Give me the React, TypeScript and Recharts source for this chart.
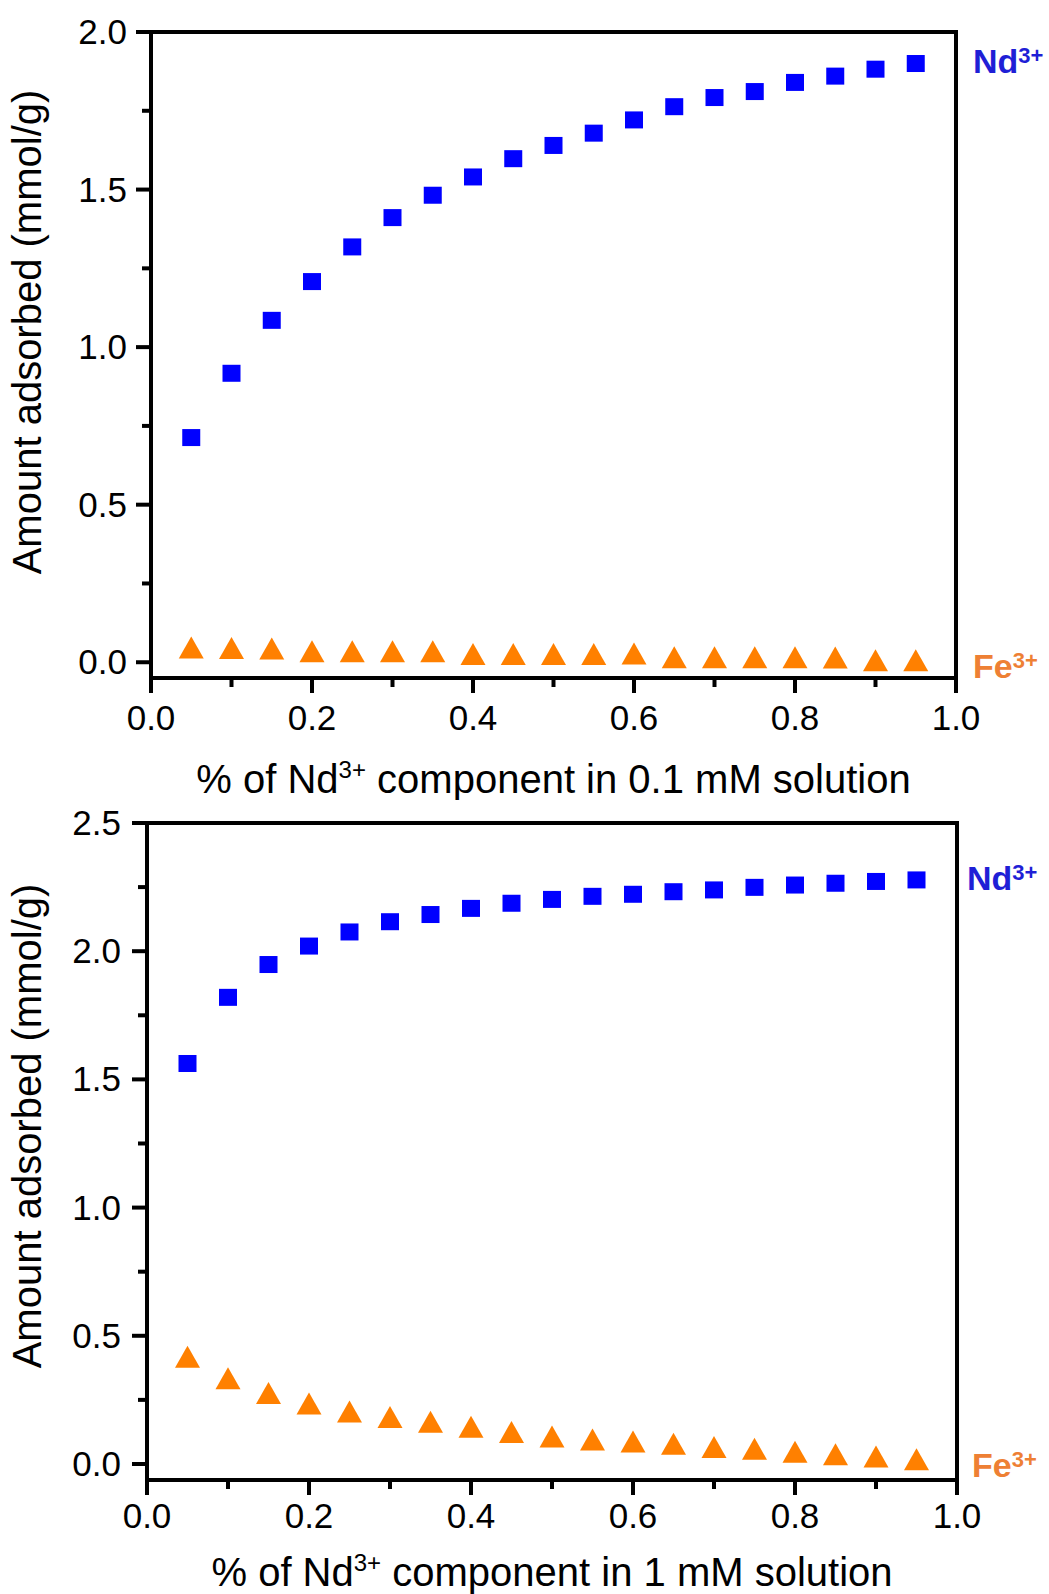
import React from 'react';
import { ScatterChart, Scatter, XAxis, YAxis } from 'recharts';

// ---- data ----
const xValues = [0.05, 0.1, 0.15, 0.2, 0.25, 0.3, 0.35, 0.4, 0.45, 0.5, 0.55, 0.6, 0.65, 0.7, 0.75, 0.8, 0.85, 0.9, 0.95];
const ndLow = [0.713, 0.917, 1.085, 1.208, 1.318, 1.411, 1.482, 1.54, 1.598, 1.64, 1.679, 1.721, 1.763, 1.792, 1.811, 1.84, 1.86, 1.882, 1.9];
const feLow = [0.047, 0.045, 0.044, 0.035, 0.035, 0.035, 0.035, 0.026, 0.026, 0.026, 0.026, 0.028, 0.016, 0.016, 0.016, 0.016, 0.015, 0.006, 0.006];
const ndHigh = [1.562, 1.82, 1.948, 2.02, 2.075, 2.115, 2.143, 2.167, 2.187, 2.202, 2.214, 2.222, 2.232, 2.239, 2.249, 2.258, 2.265, 2.272, 2.278];
const feHigh = [0.418, 0.334, 0.277, 0.236, 0.205, 0.183, 0.165, 0.145, 0.125, 0.107, 0.095, 0.088, 0.079, 0.066, 0.059, 0.048, 0.038, 0.029, 0.018];
const xTicks = [0, 0.1, 0.2, 0.3, 0.4, 0.5, 0.6, 0.7, 0.8, 0.9, 1.0];
const yTicksLow = [0, 0.25, 0.5, 0.75, 1.0, 1.25, 1.5, 1.75, 2.0];
const yTicksHigh = [0, 0.25, 0.5, 0.75, 1.0, 1.25, 1.5, 1.75, 2.0, 2.25, 2.5];
const yTitle = 'Amount adsorbed (mmol/g)';
const xTitleLow = '0.1 mM';
const xTitleHigh = '1 mM';

const FONT = '"Liberation Sans", Arial, Helvetica, sans-serif';
const BLUE = '#0000FF';
const ORANGE = '#FF8000';
const NDTEXT = '#1F1FD6';
const FETEXT = '#EE8034';

const pts = (ys: number[]) => xValues.map((x, i) => ({ x, y: ys[i] }));

const isMult = (v: number, step: number) => Math.abs(v / step - Math.round(v / step)) < 1e-6;

const makeYTick = (gap: number) => (props: any) => {
  const { x, y, payload } = props;
  const v = payload.value as number;
  const major = isMult(v, 0.5);
  const len = major ? 15 : 9;
  return (
    <g>
      <line x1={x} x2={x - len} y1={y} y2={y} stroke="#000" strokeWidth={4} />
      {major && (
        <text x={x - gap} y={y + 12} textAnchor="end" fontSize={35} fontFamily={FONT} fill="#000">
          {v.toFixed(1)}
        </text>
      )}
    </g>
  );
};

const makeXTick = (dy: number) => (props: any) => {
  const { x, y, payload } = props;
  const v = payload.value as number;
  const major = isMult(v, 0.2);
  const len = major ? 15 : 9;
  return (
    <g>
      <line x1={x} x2={x} y1={y} y2={y + len} stroke="#000" strokeWidth={4} />
      {major && (
        <text x={x} y={y + dy} textAnchor="middle" fontSize={35} fontFamily={FONT} fill="#000">
          {v.toFixed(1)}
        </text>
      )}
    </g>
  );
};

const Square = (p: any) => <rect x={p.cx - 9} y={p.cy - 8.5} width={18} height={17} fill={BLUE} />;
const Triangle = (p: any) => (
  <polygon
    points={`${p.cx},${p.cy - 11} ${p.cx + 12.5},${p.cy + 11} ${p.cx - 12.5},${p.cy + 11}`}
    fill={ORANGE}
  />
);

type PanelProps = {
  height: number;
  plotTop: number;
  plotBottom: number;
  left: number;
  right: number;
  yDomain: [number, number];
  yTicks: number[];
  nd: number[];
  fe: number[];
  conc: string;
  yGap: number;
  xDy: number;
  xTitleY: number;
  yTitleY: number;
  ndPos: [number, number];
  fePos: [number, number];
};

const Panel = (p: PanelProps) => {
  const axisLine = { stroke: '#000', strokeWidth: 4, strokeLinecap: 'square' as const };
  const cx = (p.left + (1049 - p.right)) / 2;
  const ion = (x: number, y: number, base: string, color: string) => (
    <text x={x} y={y} fontFamily={FONT} fontWeight="bold" fontSize={34} fill={color}>
      {base}
      <tspan fontSize={22} dy={-10}>3+</tspan>
    </text>
  );
  return (
    <ScatterChart width={1049} height={p.height} margin={{ top: 0, right: 0, bottom: 0, left: 0 }}>
      <XAxis
        xAxisId="b"
        type="number"
        dataKey="x"
        domain={[0, 1]}
        allowDataOverflow
        ticks={xTicks}
        interval={0}
        tickSize={0}
        tickMargin={0}
        tickLine={false}
        tick={makeXTick(p.xDy)}
        axisLine={axisLine}
        height={p.height - p.plotBottom}
        label={() => (
          <text x={cx} y={p.xTitleY} textAnchor="middle" fontFamily={FONT} fontSize={40} fill="#000">
            % of Nd<tspan fontSize={24} dy={-15}>3+</tspan>
            <tspan dy={15}>{` component in ${p.conc} solution`}</tspan>
          </text>
        )}
      />
      <XAxis
        xAxisId="t"
        orientation="top"
        type="number"
        domain={[0, 1]}
        allowDataOverflow
        tick={false}
        tickLine={false}
        axisLine={axisLine}
        height={p.plotTop}
      />
      <YAxis
        yAxisId="l"
        type="number"
        dataKey="y"
        domain={p.yDomain}
        allowDataOverflow
        ticks={p.yTicks}
        interval={0}
        tickSize={0}
        tickMargin={0}
        tickLine={false}
        tick={makeYTick(p.yGap)}
        axisLine={axisLine}
        width={p.left}
        label={() => (
          <text
            x={41}
            y={p.yTitleY}
            transform={`rotate(-90, 41, ${p.yTitleY})`}
            textAnchor="middle"
            fontFamily={FONT}
            fontSize={40}
            fill="#000"
          >
            {yTitle}
          </text>
        )}
      />
      <YAxis
        yAxisId="r"
        orientation="right"
        type="number"
        domain={p.yDomain}
        allowDataOverflow
        tick={false}
        tickLine={false}
        axisLine={axisLine}
        width={p.right}
        label={() => (
          <g>
            {ion(p.ndPos[0], p.ndPos[1], 'Nd', NDTEXT)}
            {ion(p.fePos[0], p.fePos[1], 'Fe', FETEXT)}
          </g>
        )}
      />
      <Scatter xAxisId="b" yAxisId="l" data={pts(p.nd)} shape={Square} isAnimationActive={false} />
      <Scatter xAxisId="b" yAxisId="l" data={pts(p.fe)} shape={Triangle} isAnimationActive={false} />
    </ScatterChart>
  );
};

export default function App() {
  return (
    <div style={{ position: 'absolute', left: 0, top: 0, width: 1049, height: 1594, background: '#fff' }}>
      <Panel
        height={800}
        plotTop={32}
        plotBottom={678}
        left={151}
        right={93}
        yDomain={[-0.05, 2.0]}
        yTicks={yTicksLow}
        nd={ndLow}
        fe={feLow}
        conc={xTitleLow}
        yGap={24}
        xDy={52}
        xTitleY={793}
        yTitleY={332}
        ndPos={[973, 73]}
        fePos={[973, 678]}
      />
      <Panel
        height={794}
        plotTop={23}
        plotBottom={680}
        left={147}
        right={92}
        yDomain={[-0.0625, 2.5]}
        yTicks={yTicksHigh}
        nd={ndHigh}
        fe={feHigh}
        conc={xTitleHigh}
        yGap={26}
        xDy={48}
        xTitleY={786}
        yTitleY={326}
        ndPos={[967, 90]}
        fePos={[972, 677]}
      />
    </div>
  );
}
